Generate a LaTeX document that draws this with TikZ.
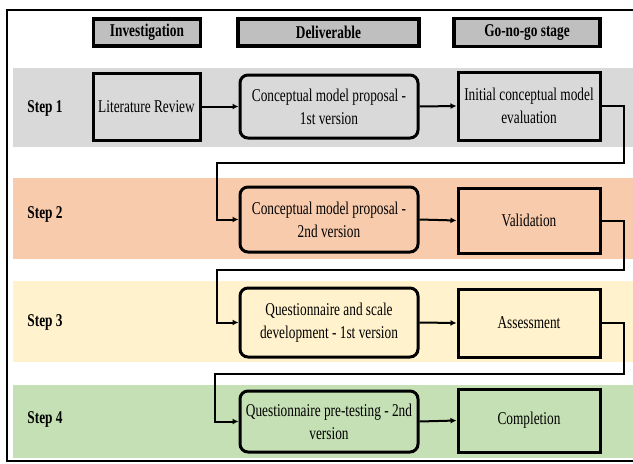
\documentclass[tikz,border=0pt]{standalone}
\usepackage{fontspec}
\setmainfont{Liberation Serif}[FakeStretch=0.74, BoldFont={Liberation Serif Bold}, BoldFeatures={FakeStretch=0.74}]
\usetikzlibrary{arrows.meta}
\definecolor{bandA}{HTML}{D9D9D9}
\definecolor{bandB}{HTML}{F8CBAD}
\definecolor{bandC}{HTML}{FFF2CC}
\definecolor{bandD}{HTML}{C5E0B4}
\definecolor{headfill}{HTML}{BFBFBF}
\tikzset{
  txt/.style={font=\fontsize{18}{23}\selectfont, align=center, inner sep=0pt},
  head/.style={draw, line width=3.5pt, fill=headfill, font=\fontsize{18}{20}\selectfont\bfseries, inner sep=0pt},
  sqbox/.style={draw, line width=3pt, txt},
  rdbox/.style={draw, line width=3pt, rounded corners=8pt, txt},
  steplbl/.style={font=\fontsize{18}{20}\selectfont\bfseries, inner sep=0pt},
  conn/.style={line width=2pt, -{Latex[length=6pt,width=6pt]}},
  frame/.style={line width=2.5pt},
}
\begin{document}
\begin{tikzpicture}[x=1pt,y=-1pt]
\useasboundingbox (0,0) rectangle (633,464);
% bands
\fill[bandA] (13,68) rectangle (633,147);
\fill[bandB] (13,178) rectangle (633,259);
\fill[bandC] (13,281) rectangle (633,362);
\fill[bandD] (13,385) rectangle (633,458);
% frame
\draw[frame] (633,10) -- (7,10) -- (7,461) -- (633,461);
% headers
\node[head, minimum width=107pt, minimum height=27pt] (h1) at (147,32.5) {Investigation};
\node[head, minimum width=181pt, minimum height=27pt] (h2) at (328.5,32.5) {Deliverable};
\node[head, minimum width=146pt, minimum height=28pt] (h3) at (527,32.5) {Go-no-go stage};
% step labels
\node[steplbl] (s1) at (45,108) {Step 1};
\node[steplbl] (s2) at (45,214) {Step 2};
\node[steplbl] (s3) at (45,322) {Step 3};
\node[steplbl] (s4) at (45,419) {Step 4};
% row 1
\node[sqbox, minimum width=107pt, minimum height=67pt] (lit) at (146.5,106.5) {Literature Review};
\node[rdbox, minimum width=178pt, minimum height=63pt] (cmp1) at (329,106.5) {Conceptual model proposal -\\1st version};
\node[sqbox, minimum width=142pt, minimum height=68pt] (init) at (529,106) {Initial conceptual model\\evaluation};
% row 2
\node[rdbox, minimum width=178pt, minimum height=65pt] (cmp2) at (329,219.5) {Conceptual model proposal -\\2nd version};
\node[sqbox, minimum width=142pt, minimum height=65pt] (valid) at (529,220.5) {Validation};
% row 3
\node[rdbox, minimum width=178pt, minimum height=69pt] (q1) at (329,322.5) {Questionnaire and scale\\development - 1st version};
\node[sqbox, minimum width=142pt, minimum height=68pt] (assess) at (529,323) {Assessment};
% row 4
\node[rdbox, minimum width=178pt, minimum height=61pt] (q2) at (329,421.5) {Questionnaire pre-testing - 2nd\\version};
\node[sqbox, minimum width=142pt, minimum height=63pt] (compl) at (529,420.5) {Completion};
% routing coordinates
\coordinate (r1) at (624,163);
\coordinate (l1) at (217,163);
\coordinate (r2) at (624,270);
\coordinate (l2) at (217,270);
\coordinate (r3) at (624,374);
\coordinate (l3) at (215,374);
% connectors
\draw[conn] (lit.east) -- (cmp1.west);
\draw[conn] (cmp1.east) -- (init.west);
\draw[conn] (cmp2.east) -- (valid.west);
\draw[conn] (q1.east) -- (assess.west);
\draw[conn] (q2.east) -- (compl.west);
\draw[conn] (init.east) -| (r1) -- (l1) |- (cmp2.west);
\draw[conn] (valid.east) -| (r2) -- (l2) |- (q1.west);
\draw[conn] (assess.east) -| (r3) -- (l3) |- (q2.west);
\end{tikzpicture}
\end{document}
